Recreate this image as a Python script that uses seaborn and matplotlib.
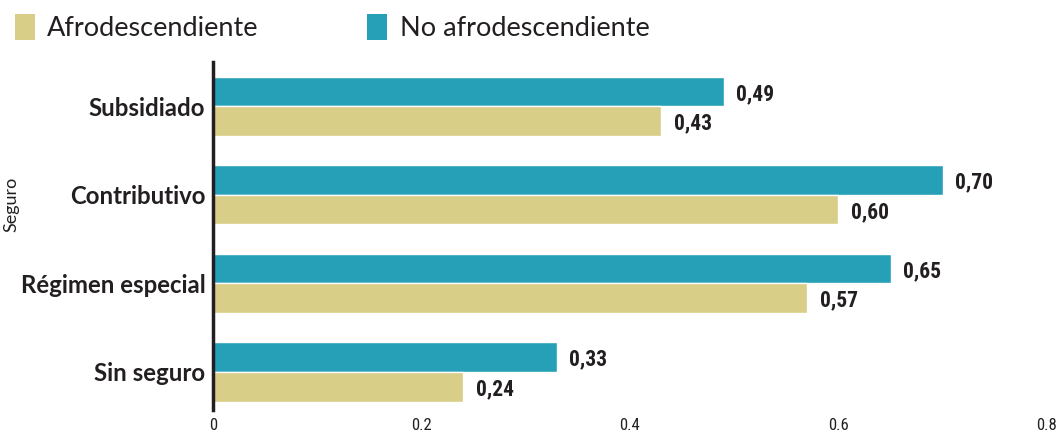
import pandas as pd
import matplotlib.pyplot as plt
import seaborn as sns
from matplotlib.patches import Patch

sns.set_theme(style="white")
plt.rcParams['font.family'] = ['Lato', 'DejaVu Sans']

# Data
categories = ['Subsidiado', 'Contributivo', 'Régimen especial', 'Sin seguro']
afro = [0.43, 0.60, 0.57, 0.24]
no_afro = [0.49, 0.70, 0.65, 0.33]
groups = ['Afrodescendiente', 'No afrodescendiente']
xticks = [0, 0.2, 0.4, 0.6, 0.8]

colors = {'Afrodescendiente': '#D9CE87', 'No afrodescendiente': '#26A0B7'}

data = pd.DataFrame({
    'Seguro': categories * 2,
    'valor': afro + no_afro,
    'grupo': [groups[0]] * 4 + [groups[1]] * 4,
})

fig = plt.figure(figsize=(10.6, 4.33), dpi=100)
ax = fig.add_axes([0.2009, 0.0531, 0.7868, 0.8038])

sns.barplot(data=data, x='valor', y='Seguro', hue='grupo',
            hue_order=['No afrodescendiente', 'Afrodescendiente'],
            order=categories, palette=colors, width=0.67,
            saturation=1, legend=False, ax=ax)

# Value labels (condensed font)
narrow = ['Roboto Condensed', 'Liberation Sans Narrow', 'Roboto', 'DejaVu Sans']
for cont in ax.containers:
    vals = [b.get_width() for b in cont]
    texts = ax.bar_label(cont, labels=[f'{v:.2f}'.replace('.', ',') for v in vals],
                         padding=9, family=narrow, fontweight='bold', fontsize=15.5,
                         color='#231F20')
    for t in texts:
        t.set_va('center_baseline')

ax.set_xlim(0, 0.8)
ax.set_ylim(3.43, -0.5)
ax.set_xticks(xticks)
ax.set_xticklabels([f'{t:g}' for t in xticks], family=narrow,
                   fontsize=12, color='#231F20')
ax.tick_params(axis='x', length=0, pad=6)
ax.tick_params(axis='y', length=0, pad=5.5)
for lbl in ax.get_yticklabels():
    lbl.set_fontsize(17.3)
    lbl.set_fontweight('bold')
    lbl.set_color('#231F20')

ax.set_xlabel('')
ax.set_ylabel('Seguro', fontsize=13, color='#231F20')
ax.yaxis.set_label_coords(-0.232, 0.59)

for s in ['top', 'right', 'bottom']:
    ax.spines[s].set_visible(False)
ax.spines['left'].set_color('#231F20')
ax.spines['left'].set_linewidth(2.5)

# Legend
handles = [Patch(facecolor=colors[g], edgecolor='none', label=g) for g in groups]
fig.legend(handles=handles, loc='upper left', bbox_to_anchor=(-0.009, 1.025),
           ncol=2, frameon=False, fontsize=19.5, handlelength=0.75,
           handleheight=1.1, handletextpad=0.45, columnspacing=4.0,
           labelcolor='#231F20')

fig.savefig('out.png', dpi=100)
